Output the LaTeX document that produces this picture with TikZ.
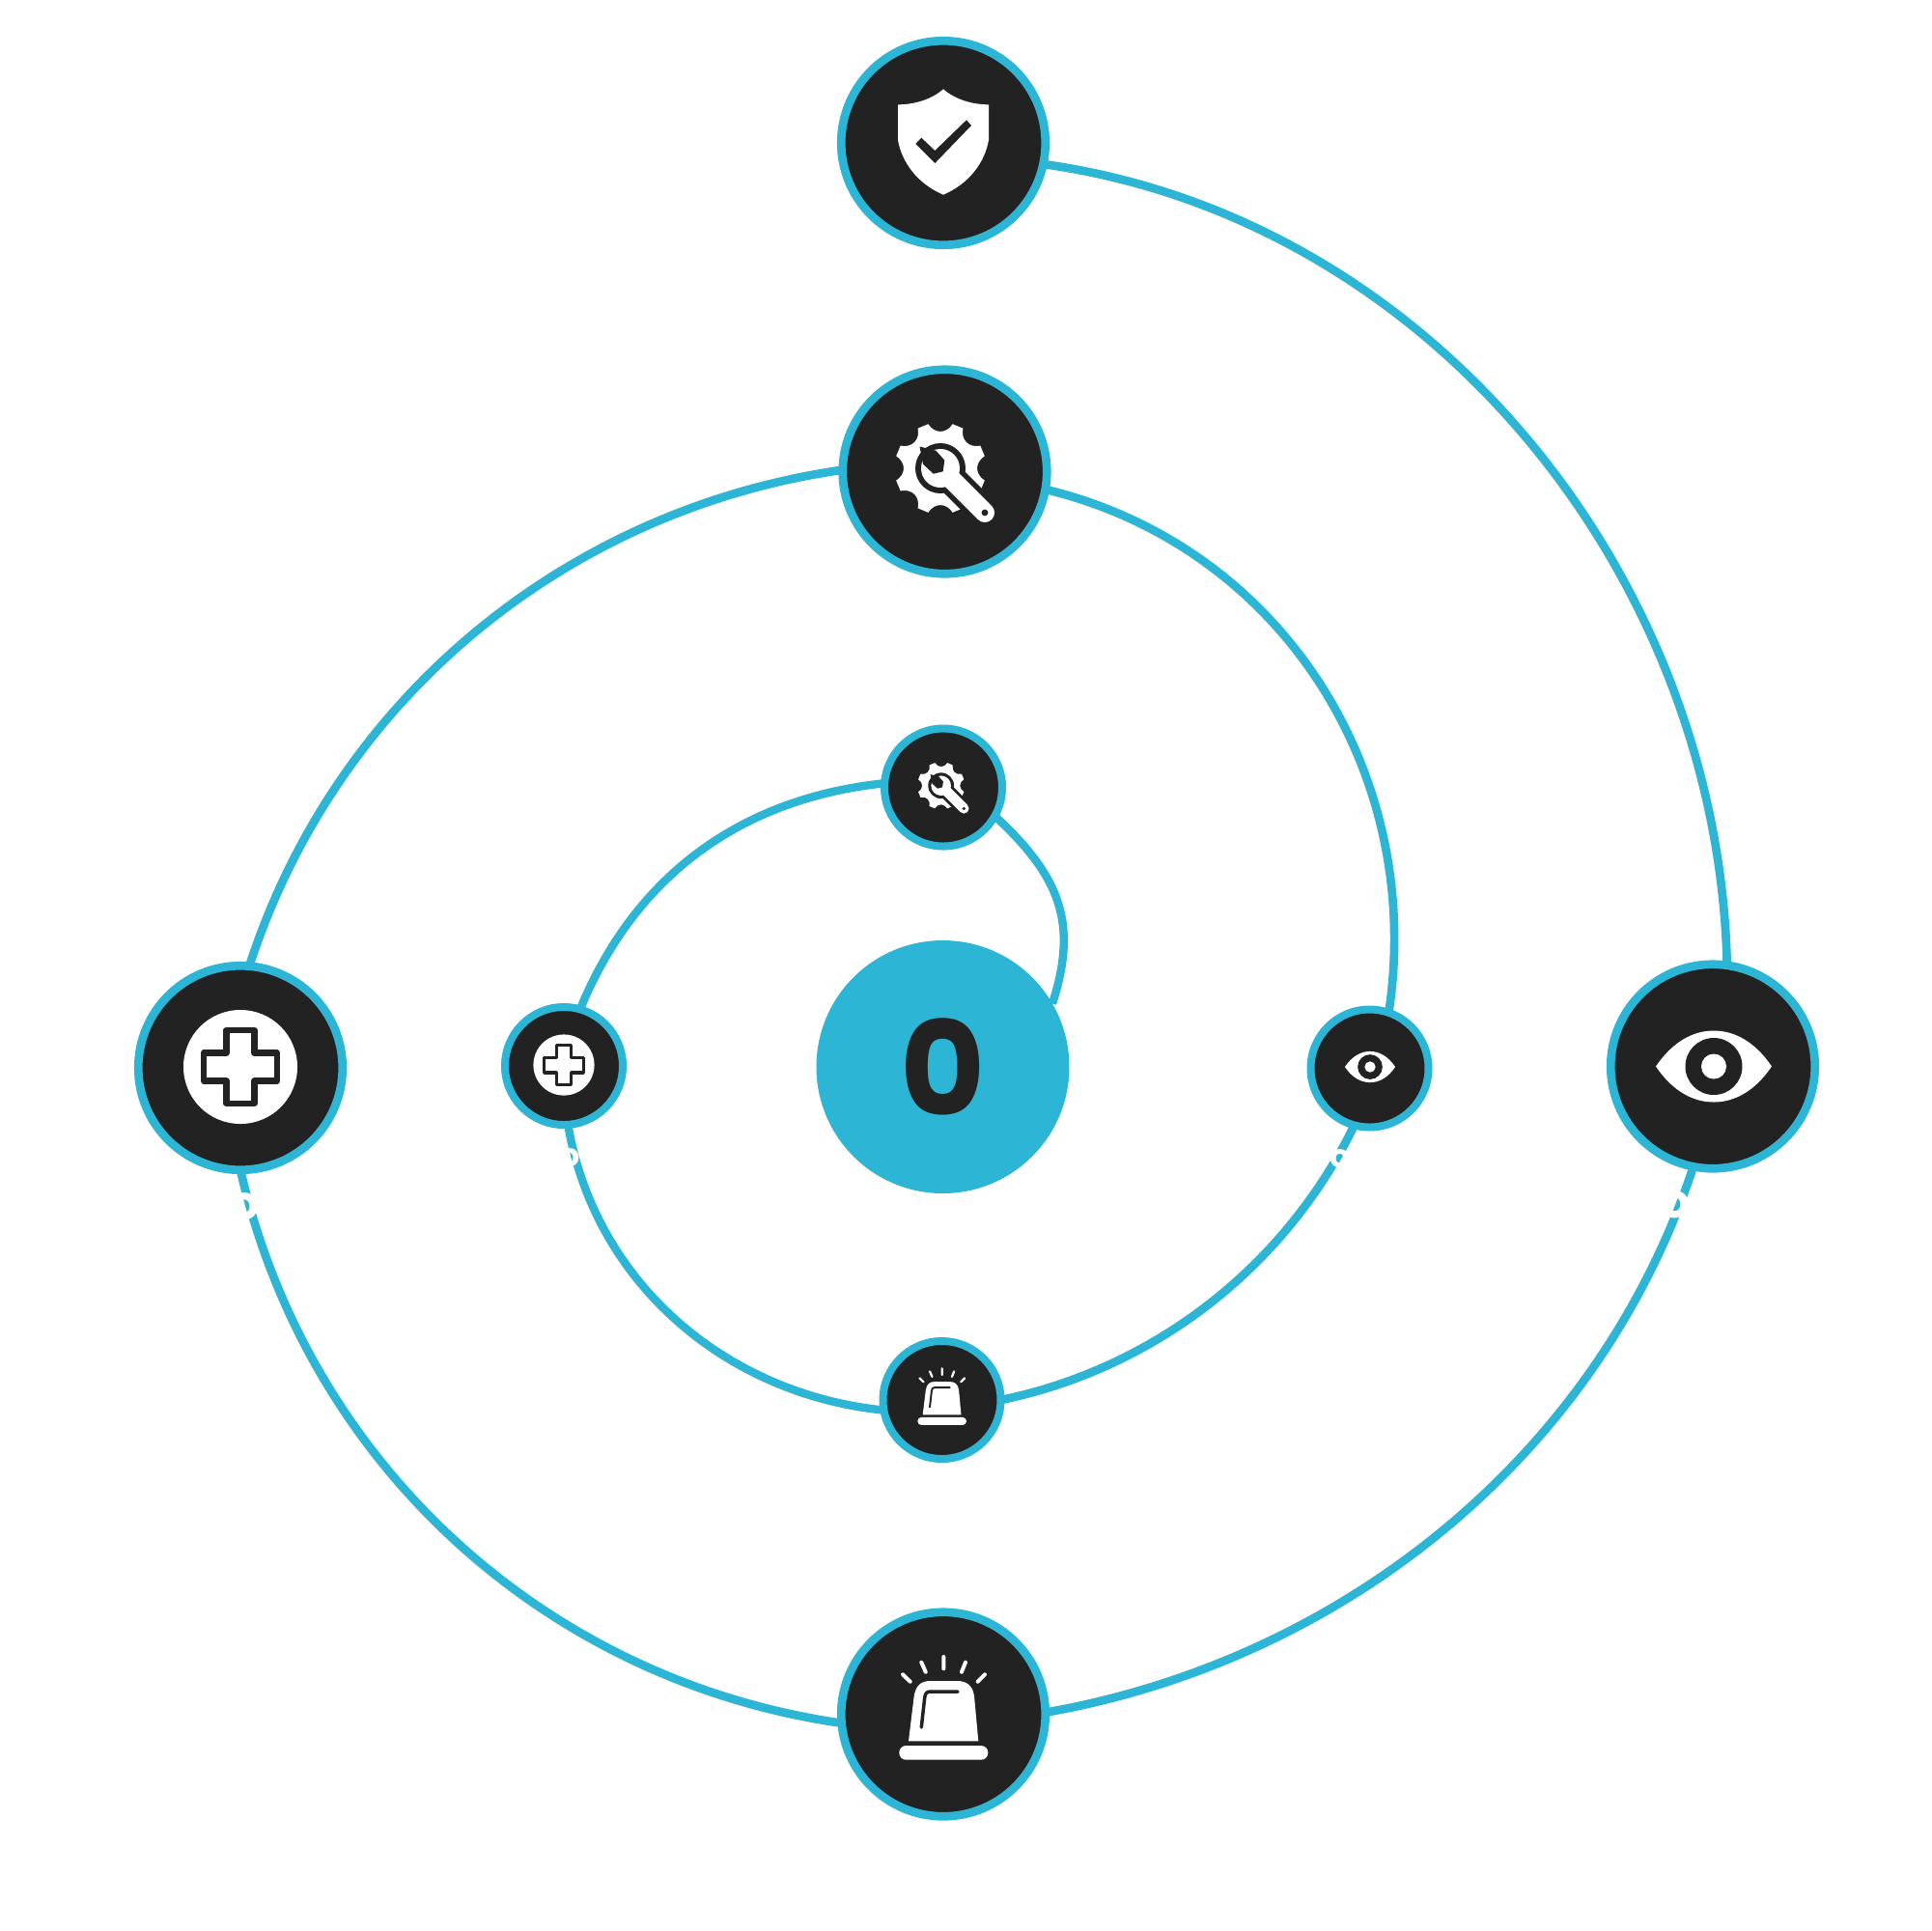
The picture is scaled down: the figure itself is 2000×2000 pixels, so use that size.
\documentclass[tikz,border=0pt]{standalone}
\usetikzlibrary{backgrounds}
\usepackage{fontspec}
\setmainfont{Poppins}
\definecolor{ringblue}{HTML}{2DB5D5}
\definecolor{inkdark}{HTML}{222222}
\tikzset{
  bigdisc/.style={circle,draw=ringblue,fill=inkdark,line width=0.87mm,minimum size=21.15mm,inner sep=0pt,outer sep=0pt},
  smalldisc/.style={circle,draw=ringblue,fill=inkdark,line width=0.8mm,minimum size=12.2mm,inner sep=0pt,outer sep=0pt},
  hubdisc/.style={circle,fill=ringblue,minimum size=26.2mm,inner sep=0pt,outer sep=0pt,text=inkdark,font=\bfseries\fontsize{38.5pt}{38.5pt}\selectfont},
  ringline/.style={draw=ringblue,line width=0.87mm},
  innerline/.style={draw=ringblue,line width=0.84mm},
  biglabel/.style={text=white,inner sep=0pt,font=\bfseries\fontsize{14pt}{14pt}\selectfont},
  smalllabel/.style={text=white,inner sep=0pt,font=\bfseries\fontsize{9.5pt}{9.5pt}\selectfont},
}
\newcommand{\iconshield}[3]{\begin{scope}[shift={(#1,#2)},scale=#3]
  \fill[white] (0,-55.7) .. controls (-12,-45) and (-30,-39.7) .. (-47,-39.7) -- (-47,-3)
    .. controls (-43,20) and (-27,42) .. (0,53.7) .. controls (27,42) and (43,20) .. (47,-3) -- (47,-39.7)
    .. controls (30,-39.7) and (12,-45) .. (0,-55.7) -- cycle;
  \fill[inkdark] (24,-23.7) -- (29,-18) -- (-8.7,21) -- (-28.7,1) -- (-22.7,-5.3) -- (-8.7,8) -- cycle;
\end{scope}}
\newcommand{\iconwrench}[3]{\begin{scope}[shift={(#1,#2)},scale=#3]
  \begin{scope}[shift={(-4.5,-3.5)}]
    \fill[white] (15.5:47.5) foreach \a in {22.5,67.5,112.5,157.5,202.5,247.5,292.5,337.5} { -- (\a+7:47.5) .. controls (\a+13:36) and (\a+32:36) .. (\a+38:47.5) } -- cycle;
  \end{scope}
  \fill[inkdark] (-4.5,-3.5) circle[radius=26];
  \draw[inkdark,line width={#3*3.1mm},line cap=round] (-4.5,-3.5) -- (41.5,42.5);
  \fill[white] (-4.5,-3.5) circle[radius=20];
  \draw[white,line width={#3*2.0mm},line cap=round] (-4.5,-3.5) -- (41.5,42.5);
  \fill[inkdark] (-9.2,-21.8) -- (-0.2,-11.8) -- (-1.8,-0.2) -- (-11.8,2.2) -- (-22.5,-7.8) -- (-26,-26) -- cycle;
  \fill[inkdark] (41.5,42.5) circle[radius=3.4];
\end{scope}}
\newcommand{\iconcross}[3]{\begin{scope}[shift={(#1,#2)},scale=#3]
  \fill[white] (0,0) circle[radius=59];
  \draw[inkdark,line width={#3*0.65mm},line join=round] (-14.5,-38) -- (14.5,-38) -- (14.5,-14.5) -- (38,-14.5) -- (38,14.5) -- (14.5,14.5) -- (14.5,38) -- (-14.5,38) -- (-14.5,14.5) -- (-38,14.5) -- (-38,-14.5) -- (-14.5,-14.5) -- cycle;
\end{scope}}
\newcommand{\iconeye}[3]{\begin{scope}[shift={(#1,#2)},scale=#3]
  \fill[white] (-60,0) .. controls (-43,-25) and (-22,-37) .. (0,-37) .. controls (22,-37) and (43,-25) .. (60,0)
    .. controls (43,25) and (22,37) .. (0,37) .. controls (-22,37) and (-43,25) .. (-60,0) -- cycle;
  \fill[inkdark] (0,0) circle[radius=29.5];
  \fill[white] (0,0) circle[radius=13];
\end{scope}}
\newcommand{\iconsiren}[3]{\begin{scope}[shift={(#1,#2)},scale=#3]
  \fill[white] (-36,27.8) -- (-30.3,-18.8) .. controls (-28.5,-30) and (-23,-34.5) .. (-13,-34.5) -- (14,-34.5)
    .. controls (24,-34.5) and (30.5,-30) .. (32,-18.8) -- (36.3,27.8) -- cycle;
  \fill[white,rounded corners={#3*0.72mm}] (-45.7,32.5) rectangle (46.3,47.2);
  \draw[inkdark,line width={#3*0.35mm},line cap=round] (-22.7,13.5) -- (-19.3,-17.2) .. controls (-18.8,-21.5) and (-17,-23.5) .. (-13.7,-23.5) -- (15,-23.5);
  \draw[white,line width={#3*0.4mm},line cap=round]
    (0.3,-59.5) -- (0.3,-47.2)
    (-22.7,-53.8) -- (-18.3,-43.8)
    (23,-53.8) -- (19,-43.8)
    (-42,-41.2) -- (-34.3,-33.8)
    (43,-41.2) -- (35.7,-33.8);
\end{scope}}
\begin{document}
\begin{tikzpicture}[x=0.1mm,y=-0.1mm]
\useasboundingbox (0,0) rectangle (2000,2000);
\node[bigdisc] (top) at (977,148) {};
\node[bigdisc] (midtop) at (978.5,488.5) {};
\node[bigdisc] (leftbig) at (249,1106) {};
\node[bigdisc] (rightbig) at (1774,1104.5) {};
\node[bigdisc] (bottom) at (977,1775.5) {};
\node[smalldisc] (smalltop) at (977,815.5) {};
\node[smalldisc] (smallleft) at (584,1104) {};
\node[smalldisc] (smallright) at (1418.5,1106.5) {};
\node[smalldisc] (smallbottom) at (975.5,1450) {};
\node[hubdisc] (hub) at (976.5,1105) {0};
\begin{scope}[on background layer]
  \fill[white] (0,0) rectangle (2000,2000);
  \draw[ringline] (top.-12.4) .. controls (1480.9,225.6) and (1779.7,595.5) .. (rightbig.82);
  \draw[ringline] (rightbig.-101.8) .. controls (1655.9,1506.5) and (1392,1719.5) .. (bottom.1.1);
  \draw[ringline] (leftbig.-90.4) .. controls (318,1514.3) and (563.5,1740.3) .. (bottom.185);
  \draw[ringline] (leftbig.85.1) .. controls (347.4,724.4) and (585.6,527.7) .. (midtop.179.4);
  \draw[ringline] (midtop.-10.4) .. controls (1326.2,565.1) and (1476,799.8) .. (smallright.71);
  \draw[ringline] (smallright.-105.8) .. controls (1331,1312.1) and (1195.8,1417.4) .. (smallbottom.-0.6);
  \draw[innerline] (smallleft.74.1) .. controls (661.8,897) and (778.7,825.5) .. (smalltop.176.6);
  \draw[innerline] (smalltop.-29) .. controls (1099.5,909.1) and (1116.4,957.6) .. (hub.30.8);
  \draw[innerline] (smallleft.-86.2) .. controls (615.8,1327.4) and (750.8,1443.9) .. (smallbottom.190.2);
\end{scope}
\iconshield{977}{148}{1}
\iconwrench{978.5}{488.5}{1}
\iconwrench{977}{815.5}{0.515}
\iconcross{249}{1105}{1}
\iconcross{584}{1103}{0.535}
\iconeye{1775}{1104.5}{1}
\iconeye{1419}{1105}{0.435}
\iconsiren{977}{1775.5}{1}
\iconsiren{975.5}{1450}{0.55}
\node[biglabel] (labelleft) at (253,1250) {o};
\node[smalllabel] (labelinnerleft) at (590,1199) {o};
\node[smalllabel] (labelinnerright) at (1388,1200) {o};
\node[biglabel] (labelright) at (1735,1248) {o};
\end{tikzpicture}
\end{document}
